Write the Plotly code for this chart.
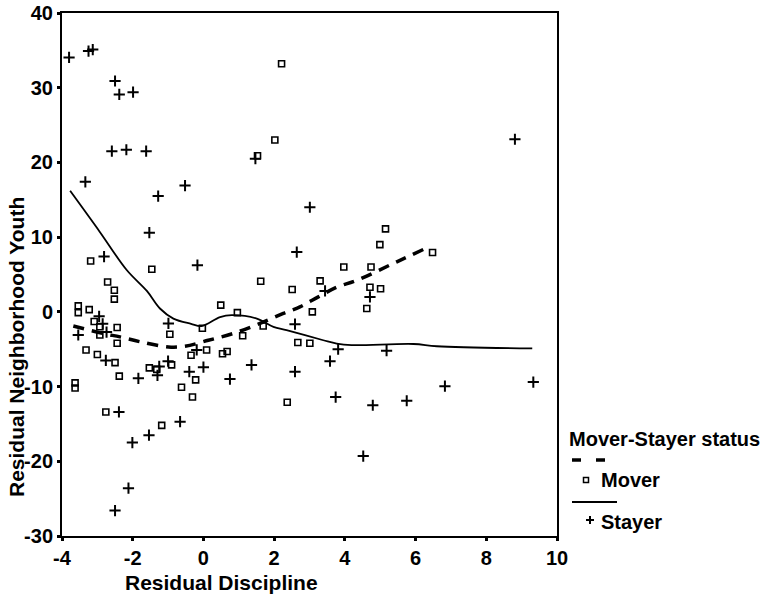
import plotly.graph_objects as go

# ---- data ----
mover_x = [2.21, 2.02, 1.53, -3.19, -1.46, -2.71, -2.52, -2.52, -3.54, -3.54, -3.23, -3.09, -2.93, -2.93,
           -2.44, -2.44, -3.32, -3.0, -2.50, -2.38, -0.95, -1.53, -1.32, -0.90, -0.35, 0.09, -0.03, 0.49,
           0.96, 0.54, 0.67, 1.11, 1.62, 1.69, 2.51, 3.08, 2.67, 3.01, 3.30, -0.22, -3.63, -3.63, -0.62,
           -0.31, -2.76, -1.18, 2.37, 5.15, 4.99, 3.97, 4.74, 4.71, 5.01, 4.62, 6.48]
mover_y = [33.2, 23.0, 20.9, 6.8, 5.7, 4.0, 2.9, 1.7, 0.8, -0.1, 0.3, -1.3, -2.0, -3.1,
           -2.1, -4.2, -5.1, -5.7, -6.8, -8.6, -3.0, -7.5, -7.7, -7.1, -5.8, -5.1, -2.2, 0.9,
           -0.1, -5.6, -5.3, -3.2, 4.1, -1.9, 3.0, 0.0, -4.1, -4.2, 4.15, -9.1, -9.5, -10.2, -10.1,
           -11.4, -13.4, -15.2, -12.1, 11.1, 9.0, 6.0, 6.0, 3.3, 3.1, 0.45, 7.95]

stayer_x = [-3.80, -3.25, -3.13, -2.50, -2.38, -1.99, -2.59, -2.18, -1.62, -3.34, -0.52, -1.28, 1.47,
            -1.53, -0.17, 3.01, 2.64, -2.81, -0.99, 2.59, -3.54, -2.95, -2.85, -2.74, -2.76, -1.25,
            -1.30, 0.00, 1.36, 2.59, -0.40, -1.84, -0.19, 0.75, -2.39, -1.54, -2.01, -0.66, -2.12,
            -2.50, 3.58, 3.81, 5.18, 3.74, 4.79, 5.75, 6.83, 4.52, 9.33, 8.81, 3.44, 4.71, -1.00]
stayer_y = [34.06, 34.9, 35.1, 30.9, 29.1, 29.4, 21.5, 21.7, 21.5, 17.4, 16.9, 15.5, 20.5,
            10.6, 6.25, 14.0, 8.0, 7.4, -1.55, -1.65, -3.1, -0.6, -1.6, -2.7, -6.5, -7.3,
            -8.5, -7.4, -7.1, -8.0, -8.0, -8.9, -5.1, -9.0, -13.4, -16.5, -17.5, -14.7, -23.6,
            -26.6, -6.6, -5.0, -5.2, -11.4, -12.5, -11.9, -9.95, -19.3, -9.4, 23.1, 2.8, 2.0, -6.6]

# smoothed fit lines
mover_fit_x = [-3.68, -2.83, -2.36, -1.79, -0.99, -0.52, 0.14, 0.84, 1.60, 2.26, 2.73, 3.25, 3.77, 4.33, 5.47, 6.22]
mover_fit_y = [-1.9, -2.9, -3.35, -4.0, -4.7, -4.6, -3.8, -2.9, -1.55, -0.2, 0.67, 2.0, 3.3, 4.2, 6.7, 8.35]
stayer_fit_x = [-3.77, -2.93, -2.17, -1.60, -1.23, -0.85, -0.35, -0.05, 0.47, 0.80, 1.51, 1.98, 2.35, 3.39, 3.77, 4.19, 5.94, 6.6, 9.30]
stayer_fit_y = [16.2, 10.7, 5.6, 2.8, 0.45, -0.9, -1.6, -1.9, -0.7, -0.45, -0.9, -2.0, -2.45, -3.8, -4.25, -4.45, -4.3, -4.6, -4.9]

x_ticks = [-4, -2, 0, 2, 4, 6, 8, 10]
y_ticks = [-30, -20, -10, 0, 10, 20, 30, 40]
x_tick_text = ["-4", "-2", "0", "2", "4", "6", "8", "10"]
y_tick_text = ["-30", "-20", "-10", "0", "10", "20", "30", "40"]

FONT = "Liberation Sans"
fig = go.Figure()
fig.add_trace(go.Scatter(x=mover_x, y=mover_y, mode="markers", name="Mover",
                         marker=dict(symbol="square-open", size=6, color="black", line=dict(width=1.6))))
fig.add_trace(go.Scatter(x=stayer_x, y=stayer_y, mode="markers", name="Stayer",
                         marker=dict(symbol="cross-thin-open", size=8, color="black", line=dict(width=2, color="black"))))
fig.add_trace(go.Scatter(x=mover_fit_x, y=mover_fit_y, mode="lines", line=dict(color="black", width=3.5, dash="11px,8px"),
                         line_shape="spline", showlegend=False))
fig.add_trace(go.Scatter(x=stayer_fit_x, y=stayer_fit_y, mode="lines", line=dict(color="black", width=1.8),
                         line_shape="spline", showlegend=False))

L, R, T, B = 62, 215, 13, 60
W, H = 772, 596
pw, ph = W - L - R, H - T - B

def px(x):
    return (x - L) / pw

def py(y):
    return (H - B - y) / ph

axis_common = dict(showgrid=False, zeroline=False, showline=True, linecolor="black", linewidth=2,
                   mirror=True, ticks="outside", ticklen=3, tickwidth=3, tickcolor="black", automargin=False,
                   tickfont=dict(family=FONT, size=20, color="black", weight="bold"))
fig.update_xaxes(range=[-4, 10], tickvals=x_ticks, ticktext=x_tick_text, **axis_common)
fig.update_yaxes(range=[-30, 40], tickvals=y_ticks, ticktext=y_tick_text, **axis_common)

shapes = [
    dict(type="line", xref="paper", yref="paper", x0=px(572), x1=px(581), y0=py(460), y1=py(460), line=dict(color="black", width=3.5)),
    dict(type="line", xref="paper", yref="paper", x0=px(596), x1=px(605), y0=py(460), y1=py(460), line=dict(color="black", width=3.5)),
    dict(type="rect", xref="paper", yref="paper", x0=px(583.5), x1=px(588.5), y0=py(482.5), y1=py(477.5), line=dict(color="black", width=1.5)),
    dict(type="line", xref="paper", yref="paper", x0=px(572), x1=px(617), y0=py(502), y1=py(502), line=dict(color="black", width=2)),
    dict(type="line", xref="paper", yref="paper", x0=px(586), x1=px(594), y0=py(520), y1=py(520), line=dict(color="black", width=2)),
    dict(type="line", xref="paper", yref="paper", x0=px(590), x1=px(590), y0=py(516), y1=py(524), line=dict(color="black", width=2)),
]

ann_font = dict(family=FONT, size=20, color="black", weight="bold")
title_font = dict(family=FONT, size=21, color="black", weight="bold")
annotations = [
    dict(text="Mover-Stayer status", xref="paper", yref="paper", x=px(567), y=py(439), xanchor="left", yanchor="middle",
         showarrow=False, font=ann_font),
    dict(text="Mover", xref="paper", yref="paper", x=px(599), y=py(480), xanchor="left", yanchor="middle",
         showarrow=False, font=ann_font),
    dict(text="Stayer", xref="paper", yref="paper", x=px(599), y=py(522), xanchor="left", yanchor="middle",
         showarrow=False, font=ann_font),
    dict(text="Residual Discipline", xref="paper", yref="paper", x=px(221), y=py(582), xanchor="center", yanchor="middle",
         showarrow=False, font=title_font),
    dict(text="Residual Neighborhood Youth", xref="paper", yref="paper", x=px(16), y=py(347), xanchor="center", yanchor="middle",
         textangle=-90, showarrow=False, font=title_font),
]

fig.update_layout(width=W, height=H, margin=dict(l=L, r=R, t=T, b=B), plot_bgcolor="white", paper_bgcolor="white",
                  showlegend=False, shapes=shapes, annotations=annotations)
fig.write_html("out.html", config={"displayModeBar": False},
               post_script="document.body.style.margin='0px';document.body.style.overflow='hidden';")
